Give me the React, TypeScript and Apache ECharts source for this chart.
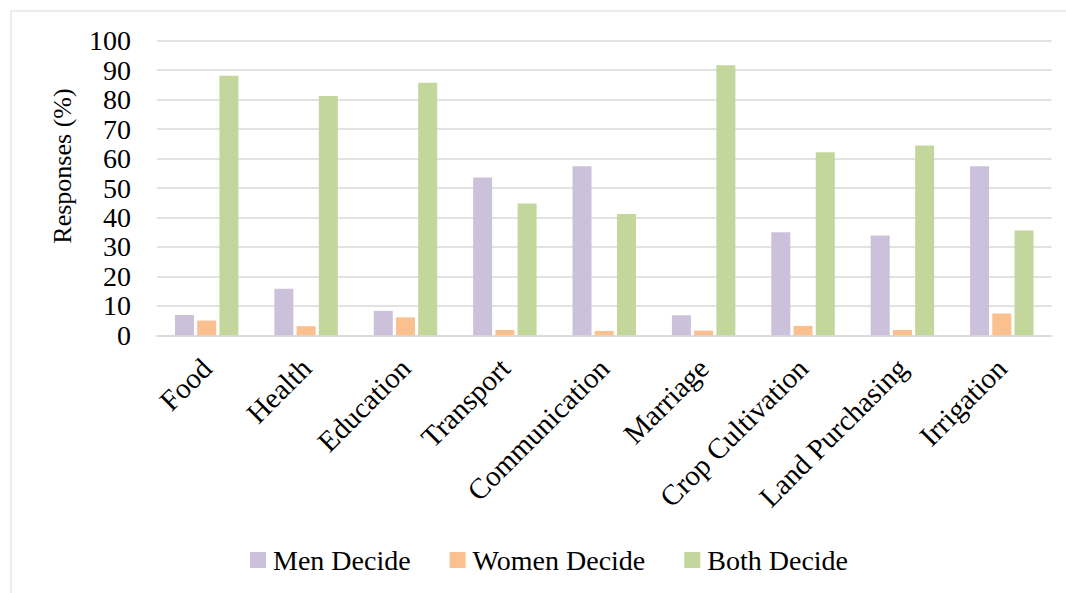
import React, { useEffect, useRef } from "react";
import * as echarts from "echarts";

// Decision categories on the x axis
const categories = [
  "Food",
  "Health",
  "Education",
  "Transport",
  "Communication",
  "Marriage",
  "Crop Cultivation",
  "Land Purchasing",
  "Irrigation",
];

// Share of responses (%) for each decision-maker group
const menDecide = [6.9, 15.8, 8.3, 53.6, 57.4, 6.8, 35.0, 33.9, 57.4];
const womenDecide = [5.0, 3.1, 6.1, 1.8, 1.5, 1.6, 3.2, 1.8, 7.4];
const bothDecide = [88.1, 81.2, 85.7, 44.7, 41.2, 91.7, 62.1, 64.4, 35.6];

const seriesNames = ["Men Decide", "Women Decide", "Both Decide"];
const seriesColors = ["#CCC1DA", "#FAC090", "#C3D69B"];

const FONT = "'Liberation Serif', 'Times New Roman', serif";

export default function App() {
  const ref = useRef<HTMLDivElement>(null);

  useEffect(() => {
    if (!ref.current) return;
    const chart = echarts.init(ref.current, null, { renderer: "svg" });
    const values = [menDecide, womenDecide, bothDecide];

    chart.setOption({
      animation: false,
      backgroundColor: "#ffffff",
      textStyle: { fontFamily: FONT, color: "#000" },
      graphic: [
        {
          type: "rect",
          shape: { x: 11, y: 11, width: 1200, height: 700 },
          style: { fill: "none", stroke: "#D9D9D9", lineWidth: 1 },
          silent: true,
        },
        {
          type: "text",
          x: 62,
          y: 166,
          rotation: Math.PI / 2,
          style: {
            text: "Responses (%)",
            font: `26px ${FONT}`,
            fill: "#000",
            align: "center",
            verticalAlign: "middle",
          },
        },
      ],
      grid: {
        left: 157,
        right: 14.5,
        top: 40.7,
        bottom: 257.7,
        containLabel: false,
      },
      legend: {
        data: seriesNames,
        left: 245,
        top: 541,
        icon: "rect",
        itemWidth: 16,
        itemHeight: 16,
        itemGap: 39,
        textStyle: {
          fontFamily: FONT,
          fontSize: 28,
          color: "#000",
          padding: [0, 0, 0, 2],
        },
      },
      xAxis: {
        type: "category",
        data: categories,
        axisLine: { show: true, lineStyle: { color: "#D9D9D9", width: 1.5 } },
        axisTick: { show: false },
        axisLabel: {
          interval: 0,
          rotate: 45,
          margin: 28,
          fontFamily: FONT,
          fontSize: 29,
          color: "#000",
        },
      },
      yAxis: {
        type: "value",
        min: 0,
        max: 100,
        interval: 10,
        axisLine: { show: false },
        axisTick: { show: false },
        axisLabel: {
          margin: 26,
          fontFamily: FONT,
          fontSize: 28,
          color: "#000",
        },
        splitLine: { lineStyle: { color: "#D9D9D9", width: 1.5 } },
      },
      series: seriesNames.map((name, i) => ({
        name,
        type: "bar",
        data: values[i],
        barWidth: 19,
        barGap: "17%",
        itemStyle: { color: seriesColors[i] },
      })),
    });

    return () => chart.dispose();
  }, []);

  return (
    <div
      ref={ref}
      style={{ position: "fixed", left: 0, top: 0, width: 1066, height: 593 }}
    />
  );
}
